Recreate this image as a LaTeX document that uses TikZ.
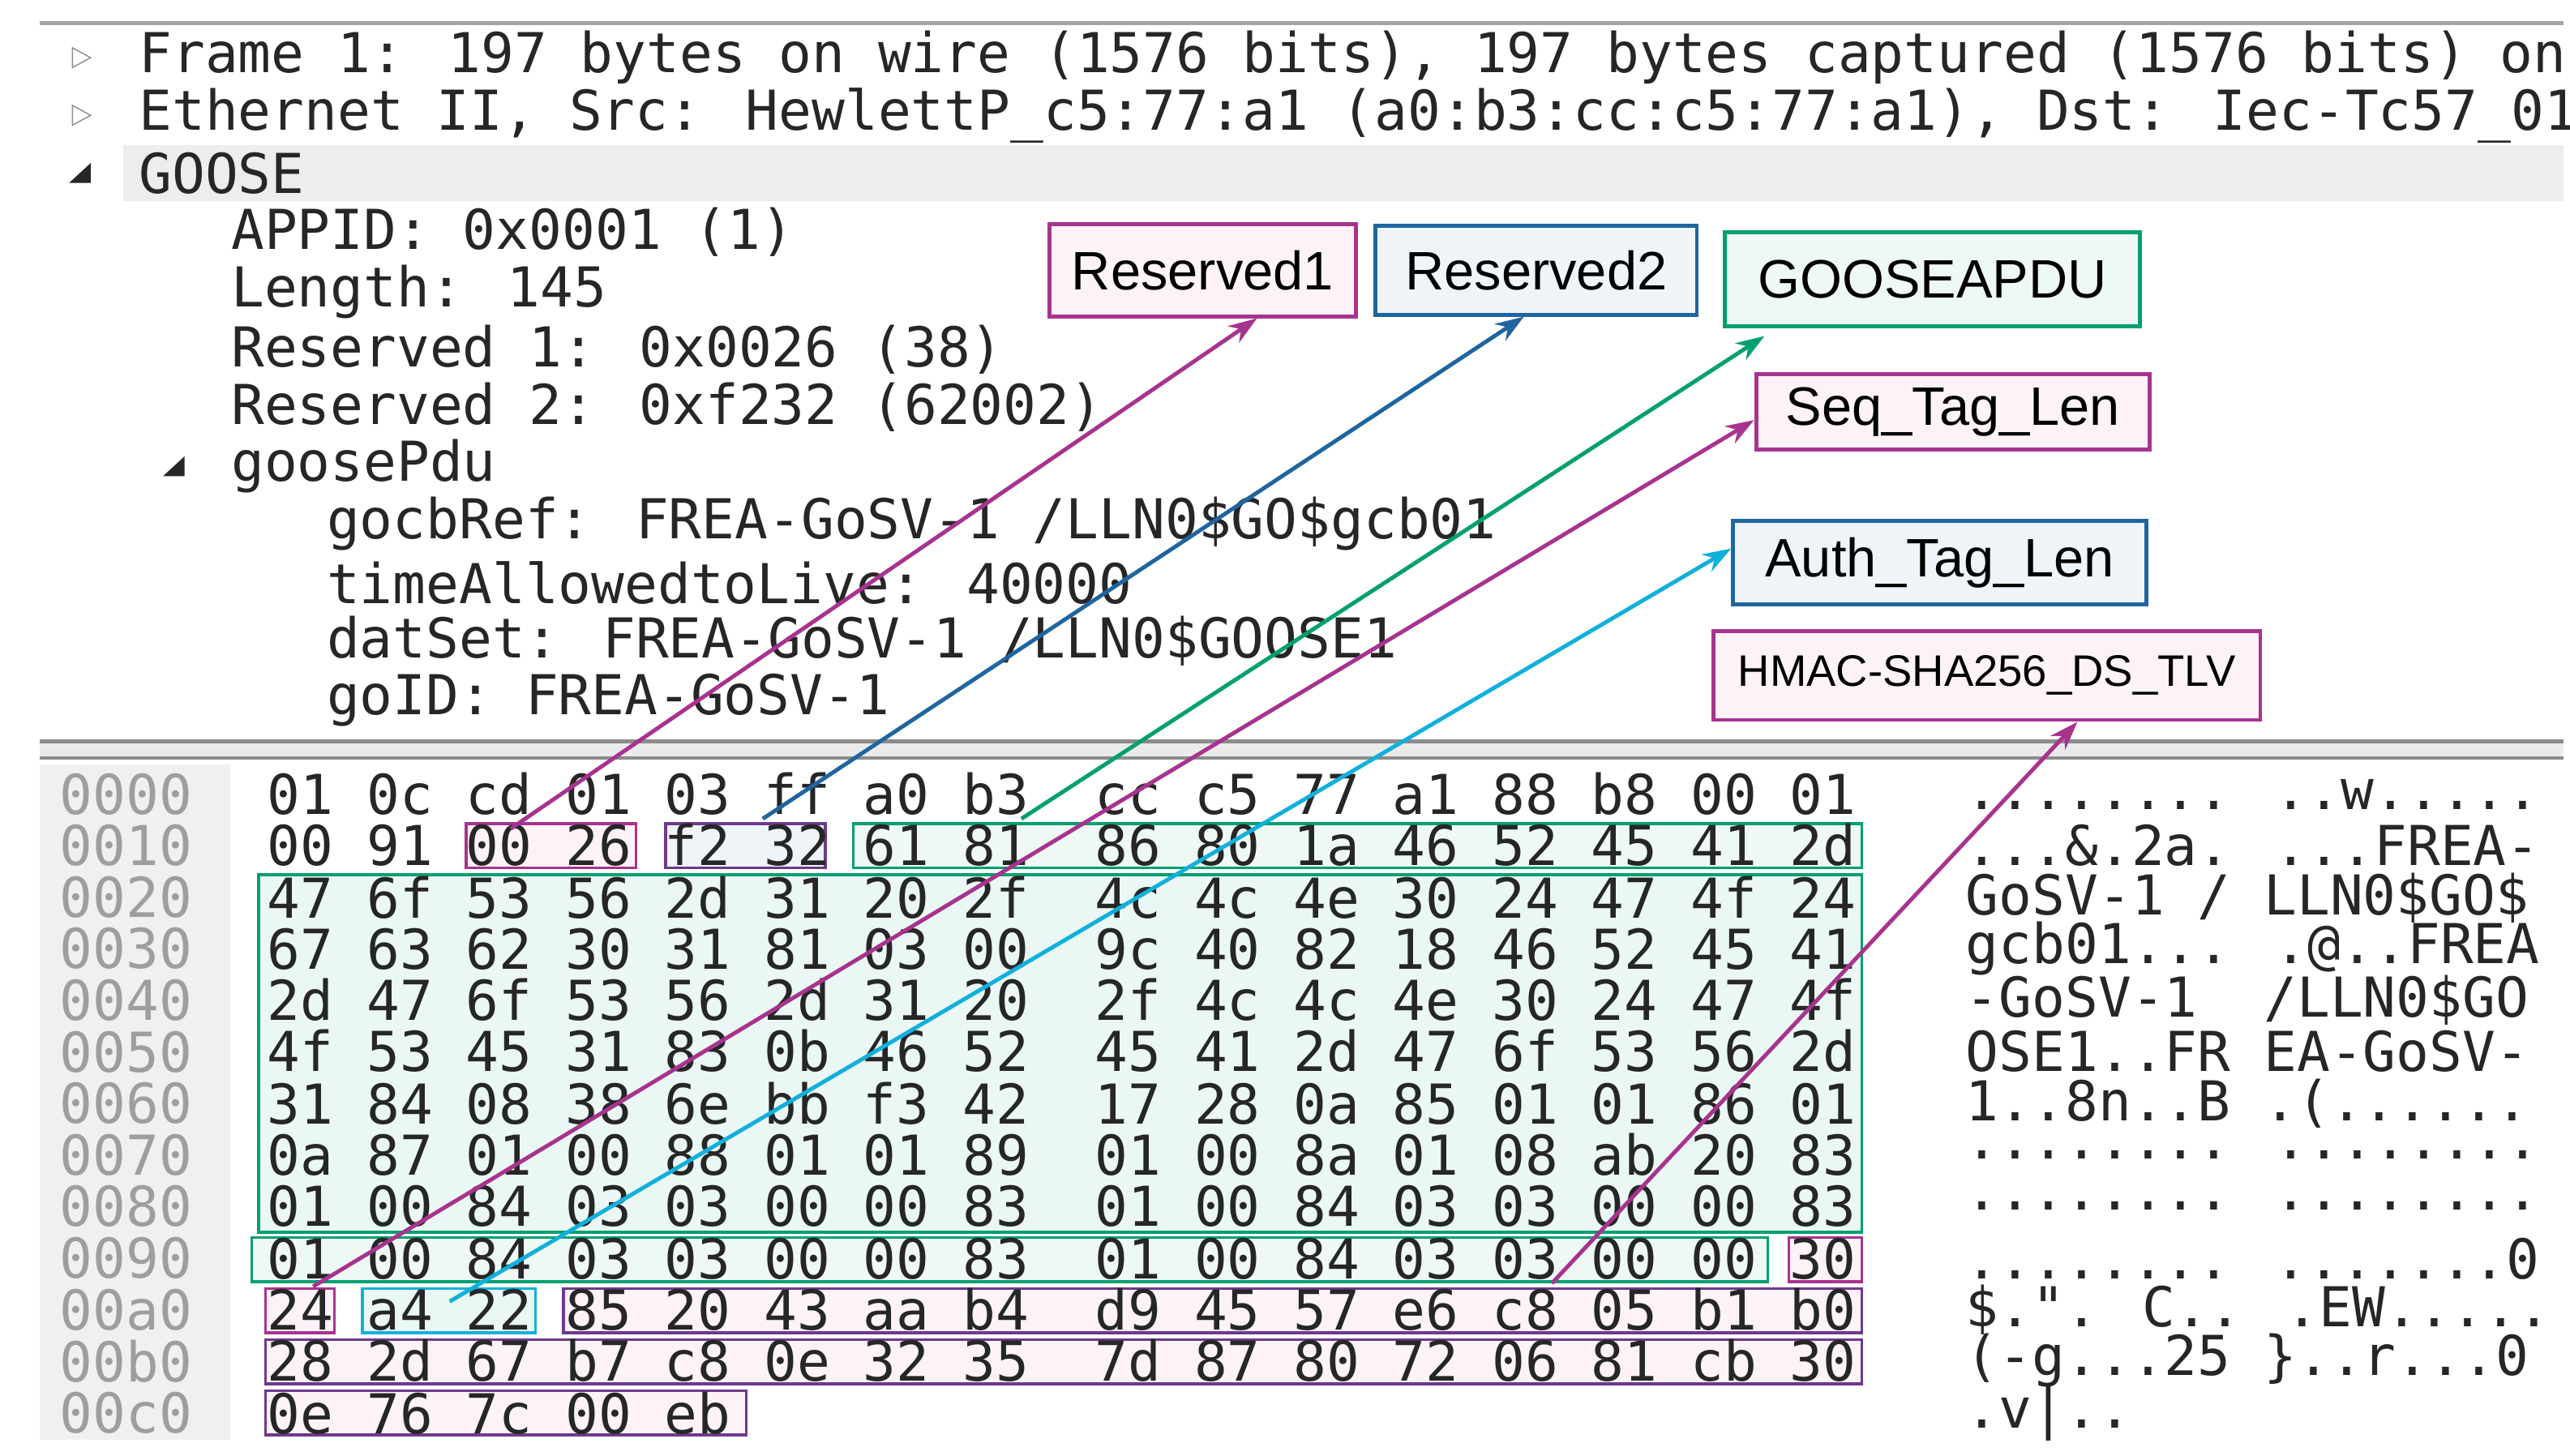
\documentclass[tikz,border=0pt]{standalone}
\usepackage{fontspec}
\setmainfont{Liberation Sans}
\newfontfamily\mono{DejaVu Sans Mono}
\usetikzlibrary{arrows.meta}
\definecolor{cMag}{HTML}{A8338F}
\definecolor{cBlue}{HTML}{1F65A0}
\definecolor{cGreen}{HTML}{00A070}
\definecolor{cCyan}{HTML}{10B0DC}
\definecolor{cPur}{HTML}{6E3A8C}
\definecolor{fPink}{HTML}{FCF2F8}
\definecolor{fBlue}{HTML}{EEF4F8}
\definecolor{fGreen}{HTML}{EEF9F5}
\definecolor{fCyan}{HTML}{EAF7F5}
\begin{document}
\begin{tikzpicture}[x=0.02032cm,y=-0.02032cm,
  hdr/.style={anchor=west,inner sep=0pt,font=\mono\fontsize{19.3}{20}\selectfont,text=black!85},
  hex/.style={anchor=west,inner sep=0pt,font=\mono\fontsize{19.3}{20}\selectfont,text=black!85},
  off/.style={anchor=west,inner sep=0pt,font=\mono\fontsize{19.3}{20}\selectfont,text=black!38},
  lab/.style={draw=#1,line width=1.4pt,inner sep=0pt,font=\fontsize{19}{21}\selectfont},
  hb/.style={draw=#1,line width=0.9pt},
  arr/.style={draw=#1,line width=1.4pt,-{Stealth[length=10pt,width=7pt]}}]
\useasboundingbox (0,0) rectangle (1560,883.4);
\fill[white] (0,0) rectangle (1560,883.4);
% top area
\draw[black!35,line width=1.5pt] (24,14) -- (1556,14);
\fill[black!7] (75,88) rectangle (1556,122);
\draw[black!45] (44,29) -- (55,35) -- (44,41) -- cycle;
\draw[black!45] (44,64) -- (55,70) -- (44,76) -- cycle;
\fill[black!85] (42,111) -- (55,111) -- (55,99) -- cycle;
\fill[black!85] (99,289) -- (112,289) -- (112,277) -- cycle;
\node[hdr] (t1) at (84,35) {Frame 1: 197 bytes on wire (1576 bits), 197 bytes captured (1576 bits) on};
\node[hdr] (t2) at (84,70) {Ethernet II, Src: HewlettP\_c5:77:a1 (a0:b3:cc:c5:77:a1), Dst: Iec-Tc57\_01};
\node[hdr] (t3) at (84,105) {GOOSE};
\node[hdr] (t4) at (140,141) {APPID: 0x0001 (1)};
\node[hdr] (t5) at (140,177) {Length: 145};
\node[hdr] (t6) at (140,212) {Reserved 1: 0x0026 (38)};
\node[hdr] (t7) at (140,247) {Reserved 2: 0xf232 (62002)};
\node[hdr] (t8) at (140,283) {goosePdu};
\node[hdr] (t9) at (198,318) {gocbRef: FREA-GoSV-1 /LLN0\$GO\$gcb01};
\node[hdr] (t10) at (198,354) {timeAllowedtoLive: 40000};
\node[hdr] (t11) at (198,389) {datSet: FREA-GoSV-1 /LLN0\$GOOSE1};
\node[hdr] (t12) at (198,425) {goID: FREA-GoSV-1};
% separator
\fill[black!8] (24,450) rectangle (1556,460);
\draw[black!45,line width=1.2pt] (24,450) -- (1556,450);
\draw[black!45,line width=1.2pt] (24,460) -- (1556,460);
\fill[black!6] (24,464) rectangle (140,874);
% hex highlight boxes
\filldraw[hb=cGreen,fill=fCyan] (157,531) rectangle (1130,748);
\filldraw[hb=cMag,fill=fPink] (283,500) rectangle (386,527);
\filldraw[hb=cPur,fill=fBlue] (404,500) rectangle (501,527);
\filldraw[hb=cGreen,fill=fGreen] (518,500) rectangle (1130,527);
\filldraw[hb=cGreen,fill=fGreen] (153,751) rectangle (1073,778);
\filldraw[hb=cMag,fill=fPink] (1086,751) rectangle (1130,778);
\filldraw[hb=cMag,fill=fPink] (161,782) rectangle (203,809);
\filldraw[hb=cCyan,fill=fCyan] (220,782) rectangle (325,809);
\filldraw[hb=cPur,fill=fPink] (342,782) rectangle (1130,809);
\filldraw[hb=cPur,fill=fPink] (161,813) rectangle (1130,840);
\filldraw[hb=cPur,fill=fPink] (161,844) rectangle (453,871);
% offsets
\foreach \o [count=\i from 0] in {0000,0010,0020,0030,0040,0050,0060,0070,0080,0090,00a0,00b0,00c0}
  \node[off] (o\o) at (36,{482+31.3*\i}) {\o};
% hex rows
\node[hex] (h0) at (162,482) {01 0c cd 01 03 ff a0 b3~ cc c5 77 a1 88 b8 00 01};
\node[hex] (h1) at (162,513) {00 91 00 26 f2 32 61 81~ 86 80 1a 46 52 45 41 2d};
\node[hex] (h2) at (162,545) {47 6f 53 56 2d 31 20 2f~ 4c 4c 4e 30 24 47 4f 24};
\node[hex] (h3) at (162,576) {67 63 62 30 31 81 03 00~ 9c 40 82 18 46 52 45 41};
\node[hex] (h4) at (162,607) {2d 47 6f 53 56 2d 31 20~ 2f 4c 4c 4e 30 24 47 4f};
\node[hex] (h5) at (162,638) {4f 53 45 31 83 0b 46 52~ 45 41 2d 47 6f 53 56 2d};
\node[hex] (h6) at (162,670) {31 84 08 38 6e bb f3 42~ 17 28 0a 85 01 01 86 01};
\node[hex] (h7) at (162,701) {0a 87 01 00 88 01 01 89~ 01 00 8a 01 08 ab 20 83};
\node[hex] (h8) at (162,732) {01 00 84 03 03 00 00 83~ 01 00 84 03 03 00 00 83};
\node[hex] (h9) at (162,764) {01 00 84 03 03 00 00 83~ 01 00 84 03 03 00 00 30};
\node[hex] (h10) at (162,795) {24 a4 22 85 20 43 aa b4~ d9 45 57 e6 c8 05 b1 b0};
\node[hex] (h11) at (162,826) {28 2d 67 b7 c8 0e 32 35~ 7d 87 80 72 06 81 cb 30};
\node[hex] (h12) at (162,858) {0e 76 7c 00 eb};
% ascii
\node[hex] (a0) at (1193,482) {........ ..w.....};
\node[hex] (a1) at (1193,513) {...\&.2a. ...FREA-};
\node[hex] (a2) at (1193,545) {GoSV-1 / LLN0\$GO\$};
\node[hex] (a3) at (1193,576) {gcb01... .@..FREA};
\node[hex] (a4) at (1193,607) {-GoSV-1~ /LLN0\$GO};
\node[hex] (a5) at (1193,638) {OSE1..FR EA-GoSV-};
\node[hex] (a6) at (1193,670) {1..8n..B .(......};
\node[hex] (a7) at (1193,701) {........ ........};
\node[hex] (a8) at (1193,732) {........ ........};
\node[hex] (a9) at (1193,764) {........ .......0};
\node[hex] (a10) at (1193,795) {\$.". C.. .EW.....};
\node[hex] (a11) at (1193,826) {(-g...25 \}..r...0};
\node[hex] (a12) at (1193,858) {.v|..};
% labels
\node[lab=cMag,fill=fPink,minimum width=186*0.02032cm,minimum height=56*0.02032cm] (L1) at (730,164) {Reserved1};
\node[lab=cBlue,fill=fBlue,minimum width=195*0.02032cm,minimum height=54*0.02032cm] (L2) at (932.5,164) {Reserved2};
\node[lab=cGreen,fill=fGreen,minimum width=252*0.02032cm,minimum height=57*0.02032cm] (L3) at (1173,169.5) {GOOSEAPDU};
\node[lab=cMag,fill=fPink,minimum width=239*0.02032cm,minimum height=46*0.02032cm] (L4) at (1185.5,250) {Seq\_Tag\_Len};
\node[lab=cBlue,fill=fBlue,minimum width=251*0.02032cm,minimum height=51*0.02032cm] (L5) at (1177.5,341.5) {Auth\_Tag\_Len};
\node[lab=cMag,fill=fPink,minimum width=332*0.02032cm,minimum height=54*0.02032cm,font=\fontsize{15.5}{17}\selectfont] (L6) at (1206,410) {HMAC-SHA256\_DS\_TLV};
% arrows
\coordinate (s1) at (310,503);
\coordinate (s2) at (463,497);
\coordinate (s3) at (620,497);
\coordinate (s4) at (190,781);
\coordinate (s5) at (273,790);
\coordinate (s6) at (942,779);
\draw[arr=cMag] (s1) -- (L1.south -| 763,0);
\draw[arr=cBlue] (s2) -- (L2.south -| 925,0);
\draw[arr=cGreen] (s3) -- (1071,204);
\draw[arr=cMag] (s4) -- (L4.west |- 0,255);
\draw[arr=cCyan] (s5) -- (L5.west |- 0,333);
\draw[arr=cMag] (s6) -- (L6.south -| 1261,0);
\end{tikzpicture}
\end{document}
